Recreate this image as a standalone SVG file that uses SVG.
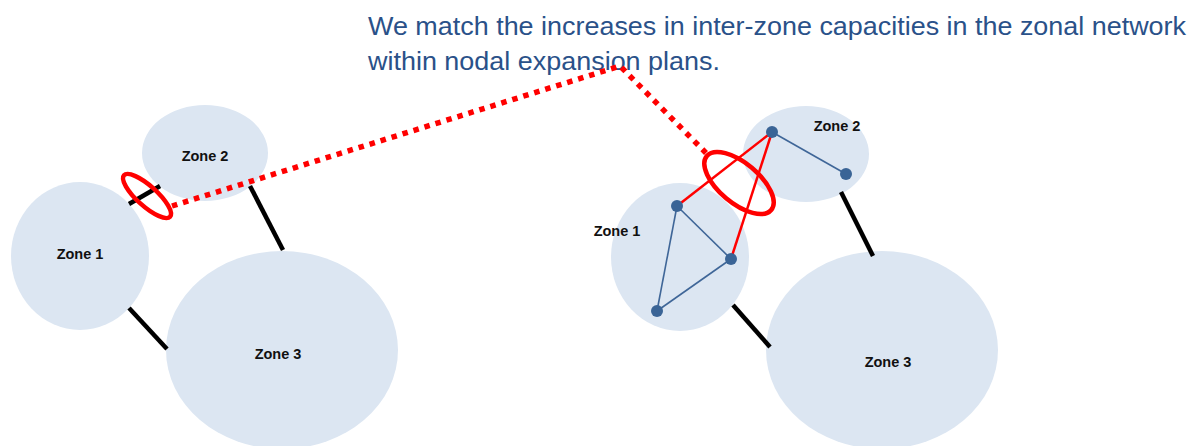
<svg xmlns="http://www.w3.org/2000/svg" width="1192" height="446" viewBox="0 0 1192 446">
<style>
.zone{fill:#dce6f2}
.zl{font-family:"Liberation Sans",Arial,sans-serif;font-weight:bold;font-size:14.5px;fill:#111;text-anchor:middle}
.link{stroke:#000;stroke-width:4.5;fill:none}
.blue{stroke:#3f6698;stroke-width:1.6;fill:none}
.redl{stroke:#ff0000;stroke-width:2.5;fill:none}
.node{fill:#3a6496}
.ring{stroke:#ff0000;stroke-width:4.5;fill:none}
.dots{stroke:#ff0000;stroke-width:5.5;stroke-dasharray:5.5 6;fill:none}
.title{font-family:"Liberation Sans",Arial,sans-serif;font-size:26px;fill:#2a5189}
</style>
<rect width="1192" height="446" fill="#ffffff"/>
<g id="title">
<text class="title" x="368" y="35" textLength="818" lengthAdjust="spacingAndGlyphs">We match the increases in inter-zone capacities in the zonal network</text>
<text class="title" x="368" y="70" textLength="352" lengthAdjust="spacingAndGlyphs">within nodal expansion plans.</text>
</g>
<g id="left-zone1"><ellipse class="zone" cx="80" cy="256" rx="69" ry="74"/><text class="zl" x="80" y="259">Zone 1</text></g>
<g id="left-zone2"><ellipse class="zone" cx="205" cy="153" rx="63" ry="48"/><text class="zl" x="205" y="161">Zone 2</text></g>
<g id="left-zone3"><ellipse class="zone" cx="282" cy="350" rx="116" ry="99"/><text class="zl" x="278" y="359">Zone 3</text></g>
<g id="right-zone1"><ellipse class="zone" cx="680" cy="257" rx="69" ry="74"/><text class="zl" x="617" y="236">Zone 1</text></g>
<g id="right-zone2"><ellipse class="zone" cx="806" cy="154" rx="63" ry="48"/><text class="zl" x="837" y="131">Zone 2</text></g>
<g id="right-zone3"><ellipse class="zone" cx="882" cy="350" rx="116" ry="99"/><text class="zl" x="888" y="367">Zone 3</text></g>
<g id="connectors">
<line class="link" x1="129" y1="204" x2="160" y2="186"/>
<line class="link" x1="250" y1="186" x2="283" y2="250"/>
<line class="link" x1="129" y1="308" x2="167" y2="349"/>
<line class="link" x1="733" y1="305" x2="770" y2="347"/>
<line class="link" x1="841" y1="192" x2="873" y2="256"/>
<line class="blue" x1="772" y1="132" x2="846" y2="174"/>
<line class="blue" x1="677" y1="206" x2="731" y2="259"/>
<line class="blue" x1="677" y1="206" x2="657" y2="311"/>
<line class="blue" x1="657" y1="311" x2="731" y2="259"/>
<line class="redl" x1="677" y1="206" x2="772" y2="132"/>
<line class="redl" x1="731" y1="259" x2="772" y2="132"/>
<ellipse class="ring" cx="147" cy="196" rx="31" ry="10" transform="rotate(42 147 196)"/>
<ellipse class="ring" cx="739" cy="183" rx="42" ry="20" transform="rotate(40 739 183)"/>
<polyline class="dots" points="172,206 620,66 706,153"/>
</g>
<g id="nodes">
<circle class="node" cx="772" cy="132" r="6"/>
<circle class="node" cx="846" cy="174" r="6"/>
<circle class="node" cx="677" cy="206" r="6"/>
<circle class="node" cx="731" cy="259" r="6"/>
<circle class="node" cx="657" cy="311" r="6"/>
</g>
</svg>
